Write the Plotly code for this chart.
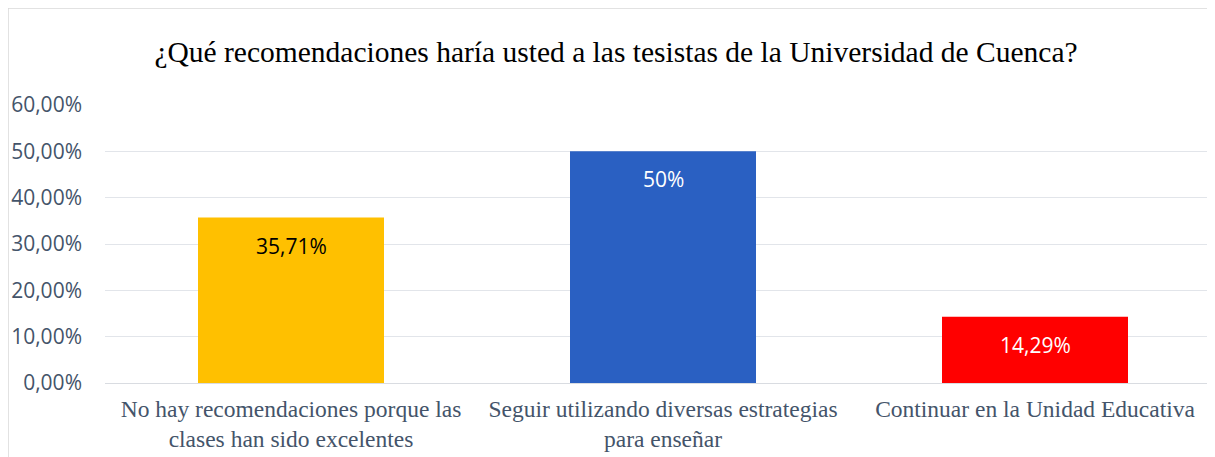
import plotly.graph_objects as go

categories = [
    "No hay recomendaciones porque las<br>clases han sido excelentes",
    "Seguir utilizando diversas estrategias<br>para enseñar",
    "Continuar en la Unidad Educativa",
]
values = [0.3571, 0.50, 0.1429]
labels = ["35,71%", "50%", "14,29%"]
bar_colors = ["#FFC000", "#2A60C2", "#FF0000"]
label_colors = ["#000000", "#FFFFFF", "#FFFFFF"]
y_ticks = [0, 0.1, 0.2, 0.3, 0.4, 0.5, 0.6]

title = "¿Qué recomendaciones haría usted a las tesistas de la Universidad de Cuenca?"

# the page puts the figure 8px in from the top-left corner
W, H = 1215, 457
ml, mr, mt, mb = 97, 2, 97, 82
pw, ph = W - ml - mr, H - mt - mb

fig = go.Figure()
fig.add_trace(go.Bar(
    x=categories,
    y=values,
    width=0.5,
    marker=dict(color=bar_colors, line=dict(width=0)),
    hoverinfo="skip",
))

for cat, val, lab, col in zip(categories, values, labels, label_colors):
    fig.add_annotation(
        x=cat, y=val, text=lab, showarrow=False,
        yanchor="middle", yshift=-28,
        font=dict(family="Open Sans", size=21, color=col),
    )

# light frame around the chart area (top and left edges visible)
fig.add_shape(
    type="rect", xref="paper", yref="paper",
    x0=-ml / pw, x1=(W + 20 - ml) / pw,
    y0=-(mb + 20) / ph, y1=(H - mb) / ph,
    line=dict(color="#D9D9D9", width=1.5), fillcolor="rgba(0,0,0,0)",
    layer="below",
)

fig.update_layout(
    width=W, height=H,
    margin=dict(l=ml, r=mr, t=mt, b=mb),
    paper_bgcolor="white", plot_bgcolor="white",
    separators=",.",
    showlegend=False,
    title=dict(
        text=title, x=608 / W, xanchor="center", y=1 - 44 / H, yanchor="middle",
        font=dict(family="Liberation Serif", size=29.5, color="#000000"),
    ),
    xaxis=dict(
        range=[-0.5, 2.5], showgrid=False, zeroline=False, showline=False,
        ticks="", ticklabelstandoff=9,
        tickfont=dict(family="Liberation Serif", size=23.5, color="#44546A"),
    ),
    yaxis=dict(
        range=[0, 0.6], tickvals=y_ticks, tickformat=".2%",
        showgrid=True, gridcolor="#E2E5EA", gridwidth=1.3,
        zeroline=True, zerolinecolor="#D9DCE1", zerolinewidth=1.3,
        showline=False, ticks="", ticklabelstandoff=22,
        tickfont=dict(family="Open Sans", size=21, color="#44546A"),
    ),
)

fig.write_html("out.html")
